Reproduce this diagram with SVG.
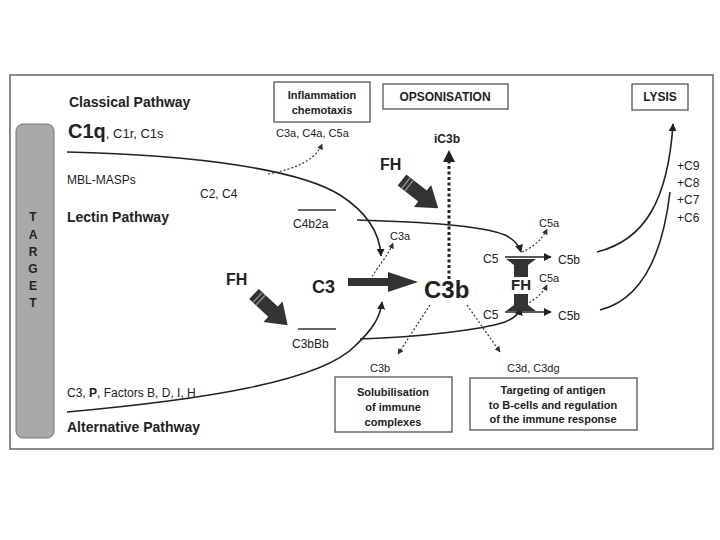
<svg xmlns="http://www.w3.org/2000/svg" width="720" height="540" viewBox="0 0 720 540">
<style>
text{font-family:"Liberation Sans",Arial,sans-serif;fill:#222}
.b{font-weight:bold}
.path{font-weight:bold;font-size:14px}
.s{font-size:11px}
.m{font-size:12px}
.box{fill:#fff;stroke:#555;stroke-width:1.3}
.ln{fill:none;stroke:#222;stroke-width:1.6}
.dt{fill:none;stroke:#333;stroke-width:1.2;stroke-dasharray:2 2}
.blk{fill:#333}
.bt{font-weight:bold;font-size:11px;text-anchor:middle}
</style>
<defs>
<marker id="ah" viewBox="0 0 10 10" refX="9" refY="5" markerWidth="8" markerHeight="8" markerUnits="userSpaceOnUse" orient="auto"><path d="M0,0 L10,5 L0,10 Z" fill="#222"/></marker>
<marker id="ahs" viewBox="0 0 10 10" refX="9" refY="5" markerWidth="6" markerHeight="6" markerUnits="userSpaceOnUse" orient="auto"><path d="M0,0 L10,5 L0,10 Z" fill="#333"/></marker>
<g id="fharrow"><path d="M0,-7 L26,-7 L26,-14 L46,0 L26,14 L26,7 L0,7 Z" fill="#333"/><line x1="5" y1="-7" x2="5" y2="7" stroke="#999" stroke-width="1.2"/><line x1="9" y1="-7" x2="9" y2="7" stroke="#999" stroke-width="1.2"/></g>
</defs>
<rect x="0" y="0" width="720" height="540" fill="#fff"/>
<rect x="10" y="75" width="703" height="374" fill="#fff" stroke="#666" stroke-width="1.5"/>

<g id="target">
<rect x="16" y="124" width="38" height="314" rx="7" fill="#a9a9a9" stroke="#777" stroke-width="1"/>
<g class="b" font-size="12" text-anchor="middle">
<text x="33" y="221">T</text><text x="33" y="239">A</text><text x="33" y="256">R</text><text x="33" y="273">G</text><text x="33" y="290">E</text><text x="33" y="307">T</text>
</g>
</g>

<g id="labels">
<text class="path" x="69" y="107">Classical Pathway</text>
<text x="68" y="138"><tspan class="b" font-size="20">C1q</tspan><tspan font-size="13">, C1r, C1s</tspan></text>
<text class="m" x="67" y="184">MBL-MASPs</text>
<text class="m" x="200" y="198">C2, C4</text>
<text class="path" x="67" y="222">Lectin Pathway</text>
<line x1="298" y1="210" x2="336" y2="210" stroke="#333" stroke-width="1.5"/>
<text class="m" x="293" y="228">C4b2a</text>
<line x1="298" y1="329" x2="336" y2="329" stroke="#333" stroke-width="1.5"/>
<text class="m" x="292" y="348">C3bBb</text>
<text class="m" x="67" y="397">C3, <tspan class="b">P</tspan>, Factors B, D, I, H</text>
<text class="path" x="67" y="432">Alternative Pathway</text>
<text class="s" x="276" y="137" font-size="10.5">C3a, C4a, C5a</text>
<text class="b" x="380" y="170" font-size="16">FH</text>
<text class="b" x="226" y="285" font-size="16">FH</text>
<text class="b" x="434" y="143" font-size="12">iC3b</text>
<text class="b" x="312" y="293" font-size="18">C3</text>
<text class="b" x="424" y="298" font-size="24">C3b</text>
<text class="s" x="390" y="240">C3a</text>
<text class="s" x="370" y="372">C3b</text>
<text class="s" x="507" y="372">C3d, C3dg</text>
<text class="m" x="483" y="263">C5</text>
<text class="m" x="558" y="264">C5b</text>
<text class="s" x="539" y="227">C5a</text>
<text class="m" x="483" y="319">C5</text>
<text class="m" x="558" y="320">C5b</text>
<text class="s" x="539" y="282">C5a</text>
<text class="m" x="677" y="170">+C9</text>
<text class="m" x="677" y="187">+C8</text>
<text class="m" x="677" y="204">+C7</text>
<text class="m" x="677" y="222">+C6</text>
</g>

<g id="box-inflammation">
<rect class="box" x="274" y="82" width="96" height="40"/>
<text class="bt" x="322" y="99">Inflammation</text>
<text class="bt" x="322" y="114">chemotaxis</text>
</g>
<g id="box-opsonisation">
<rect class="box" x="383" y="84" width="125" height="25"/>
<text class="b" x="445" y="101" font-size="12" text-anchor="middle">OPSONISATION</text>
</g>
<g id="box-lysis">
<rect class="box" x="632" y="84" width="56" height="26"/>
<text class="b" x="660" y="101" font-size="12" text-anchor="middle">LYSIS</text>
</g>
<g id="box-solubilisation">
<rect class="box" x="335" y="377" width="117" height="55"/>
<text class="bt" x="393" y="396">Solubilisation</text>
<text class="bt" x="393" y="411">of immune</text>
<text class="bt" x="393" y="426">complexes</text>
</g>
<g id="box-targeting">
<rect class="box" x="470" y="378" width="167" height="52"/>
<text class="bt" x="553" y="394">Targeting of antigen</text>
<text class="bt" x="553" y="409">to B-cells and regulation</text>
<text class="bt" x="553" y="423">of the immune response</text>
</g>

<g id="connectors">
<path class="ln" d="M67,152 C200,155 300,170 340,195 C368,213 380,235 381,256" marker-end="url(#ah)"/>
<path class="ln" d="M67,412 C200,400 320,382 355,346 C372,330 380,318 382,302" marker-end="url(#ah)"/>
<path class="ln" d="M357,220 C420,222 480,225 505,235 C515,240 519,245 521,252" marker-end="url(#ah)"/>
<path class="ln" d="M360,339 C420,337 480,330 505,322 C515,318 519,314 521,308" marker-end="url(#ah)"/>
<path class="ln" d="M597,252 C645,240 668,200 673,124" marker-end="url(#ah)"/>
<path class="ln" d="M600,310 C640,300 662,260 670,192"/>
<path class="dt" d="M268,174 C290,170 315,162 322,144" marker-end="url(#ahs)"/>
<path class="dt" d="M370,280 C378,266 388,256 393,243" marker-end="url(#ahs)"/>
<path class="dt" d="M522,252 C532,248 542,240 547,229" marker-end="url(#ahs)"/>
<path class="dt" d="M522,306 C532,302 542,295 547,285" marker-end="url(#ahs)"/>
<path class="dt" d="M430,305 L398,354" marker-end="url(#ahs)"/>
<path class="dt" d="M467,305 L500,352" marker-end="url(#ahs)"/>
<line x1="449" y1="290" x2="449" y2="160" stroke="#222" stroke-width="3" stroke-dasharray="3 2.5"/>
<path d="M443,162 L449,150 L455,162 Z" fill="#222"/>
<line x1="505" y1="257" x2="551" y2="257" stroke="#222" stroke-width="1.6" marker-end="url(#ah)"/>
<line x1="505" y1="312" x2="551" y2="312" stroke="#222" stroke-width="1.6" marker-end="url(#ah)"/>
<path class="blk" d="M348,278 L388,278 L388,272 L418,282 L388,292 L388,286 L348,286 Z"/>
<use href="#fharrow" transform="translate(402,180) rotate(38)"/>
<use href="#fharrow" transform="translate(254,294) rotate(43)"/>
<path class="blk" d="M506,259 L536,259 L528,265 L528,277 L514,277 L514,265 Z"/>
<path class="blk" d="M514,294 L528,294 L528,305 L536,311 L506,311 L514,305 Z"/>
</g>
<text class="b" x="521" y="290" font-size="15" text-anchor="middle">FH</text>
</svg>
